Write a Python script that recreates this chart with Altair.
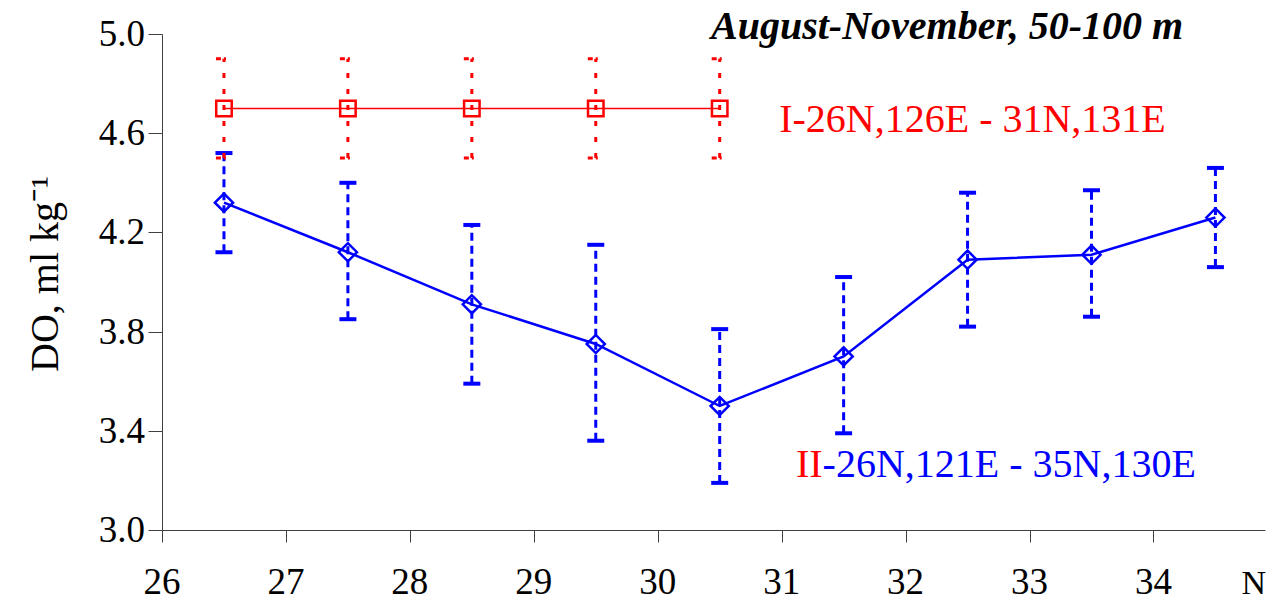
import altair as alt
import pandas as pd

# ---- data ----
lat_red = [26.5, 27.5, 28.5, 29.5, 30.5]
do_red = [4.70, 4.70, 4.70, 4.70, 4.70]
red_lo = [4.50, 4.50, 4.50, 4.50, 4.50]
red_hi = [4.90, 4.90, 4.90, 4.90, 4.90]

lat_blue = [26.5, 27.5, 28.5, 29.5, 30.5, 31.5, 32.5, 33.5, 34.5]
do_blue = [4.32, 4.12, 3.91, 3.75, 3.50, 3.70, 4.09, 4.11, 4.26]
blue_lo = [4.12, 3.85, 3.59, 3.36, 3.19, 3.39, 3.82, 3.86, 4.06]
blue_hi = [4.52, 4.40, 4.23, 4.15, 3.81, 4.02, 4.36, 4.37, 4.46]

x_ticks = [26, 27, 28, 29, 30, 31, 32, 33, 34]
y_ticks = [3.0, 3.4, 3.8, 4.2, 4.6, 5.0]

title_text = "August-November, 50-100 m"
y_title = "DO, ml kg⁻¹"
red_label = "I-26N,126E - 31N,131E"
blue_label_a = "II"
blue_label_b = "-26N,121E - 35N,130E"
x_unit = "N"

RED = "#ff0000"
BLUE = "#0000ff"
FONT = "Liberation Serif"
W, H = 1103, 496

red_df = pd.DataFrame({"lat": lat_red, "do": do_red, "lo": red_lo, "hi": red_hi})
blue_df = pd.DataFrame({"lat": lat_blue, "do": do_blue, "lo": blue_lo, "hi": blue_hi})

xs = alt.Scale(domain=[26, 34.9], nice=False, zero=False)
ys = alt.Scale(domain=[3.0, 5.0], nice=False, zero=False)

axis_col = "#404040"
x_axis = alt.Axis(values=x_ticks, grid=False, title=None, labels=False,
                  domainColor=axis_col, tickColor=axis_col, tickSize=12)
y_axis = alt.Axis(values=y_ticks, grid=False, title=None, labels=False,
                  domainColor=axis_col, tickColor=axis_col, tickSize=14)


def X(field="lat"):
    return alt.X(f"{field}:Q", scale=xs, axis=x_axis)


def Y(field="do"):
    return alt.Y(f"{field}:Q", scale=ys, axis=y_axis)


# blue series
blue_line = alt.Chart(blue_df).mark_line(color=BLUE, strokeWidth=2.5).encode(x=X(), y=Y())
blue_err = alt.Chart(blue_df).mark_rule(color=BLUE, strokeWidth=3, strokeDash=[8, 5]).encode(
    x=X(), y=Y("lo"), y2="hi:Q")
blue_cap_lo = alt.Chart(blue_df).mark_tick(color=BLUE, orient="horizontal", size=17,
                                           thickness=4, opacity=1).encode(x=X(), y=Y("lo"))
blue_cap_hi = alt.Chart(blue_df).mark_tick(color=BLUE, orient="horizontal", size=17,
                                           thickness=4, opacity=1).encode(x=X(), y=Y("hi"))
blue_pts = alt.Chart(blue_df).mark_point(shape="diamond", size=330, filled=False,
                                         color=BLUE, strokeWidth=2.5, opacity=1).encode(
    x=X(), y=Y())

# red series
red_line = alt.Chart(red_df).mark_line(color=RED, strokeWidth=1.5).encode(x=X(), y=Y())
red_err = alt.Chart(red_df).mark_rule(color=RED, strokeWidth=3, strokeDash=[5, 11]).encode(
    x=X(), y=Y("lo"), y2="hi:Q")
cap_shape = "M-1,0L1,0"
red_cap_lo = alt.Chart(red_df).mark_point(shape=cap_shape, size=256, color=RED, filled=False,
                                          strokeWidth=3, strokeDash=[5, 3, 2, 6],
                                          opacity=1).encode(x=X(), y=Y("lo"))
red_cap_hi = alt.Chart(red_df).mark_point(shape=cap_shape, size=256, color=RED, filled=False,
                                          strokeWidth=3, strokeDash=[5, 3, 2, 6],
                                          opacity=1).encode(x=X(), y=Y("hi"))
red_pts = alt.Chart(red_df).mark_point(shape="square", size=240, filled=False, color=RED,
                                       strokeWidth=2.5, opacity=1).encode(x=X(), y=Y())

# tick labels as serif text (axis labels ignore the serif font here)
xlab_df = pd.DataFrame({"lat": x_ticks})
x_labels = alt.Chart(xlab_df).mark_text(font=FONT, fontSize=37, color="black", align="center",
                                        baseline="alphabetic").encode(
    x=X(), y=alt.value(H + 64), text=alt.Text("lat:Q", format="d"))
ylab_df = pd.DataFrame({"do": y_ticks})
y_labels = alt.Chart(ylab_df).mark_text(font=FONT, fontSize=37, color="black", align="right",
                                        baseline="middle", dy=1).encode(
    x=alt.value(-17), y=Y(), text=alt.Text("do:Q", format=".1f"))
ytitle_df = pd.DataFrame({"t": [y_title]})
y_title_mark = alt.Chart(ytitle_df).mark_text(font=FONT, fontSize=40, color="black",
                                              align="center", baseline="alphabetic",
                                              angle=270).encode(
    x=alt.value(-104), y=alt.value(240), text="t:N")


# annotations
def label(text, x, y, color, align, size=40, style="normal", weight="normal",
          baseline="middle"):
    df = pd.DataFrame({"t": [text], "lat": [x], "do": [y]})
    return alt.Chart(df).mark_text(font=FONT, fontSize=size, color=color, align=align,
                                   baseline=baseline, fontStyle=style,
                                   fontWeight=weight).encode(x=X(), y=Y(), text="t:N")


t_title = label(title_text, 34.24, 4.98, "black", "right", size=40, style="italic",
                weight="bold", baseline="alphabetic")
t_red = label(red_label, 30.98, 4.655, RED, "left")
t_blue_a = label(blue_label_a, 31.33, 3.262, RED, "right")
t_blue_b = label(blue_label_b, 31.33, 3.262, BLUE, "left")
n_df = pd.DataFrame({"t": [x_unit], "lat": [34.81]})
t_n = alt.Chart(n_df).mark_text(font=FONT, fontSize=34, color="black", align="center",
                                baseline="alphabetic").encode(
    x=X(), y=alt.value(H + 64), text="t:N")

chart = alt.layer(
    blue_line, blue_err, blue_cap_lo, blue_cap_hi, red_line, red_err, red_cap_lo, red_cap_hi,
    blue_pts, red_pts, x_labels, y_labels, y_title_mark,
    t_title, t_red, t_blue_a, t_blue_b, t_n
).properties(
    width=W, height=H,
    autosize=alt.AutoSizeParams(type="none"),
    padding={"left": 154, "top": 26, "right": 2, "bottom": 71},
    background="white",
).configure_view(stroke=None)

chart.save("out.html", embed_options={"renderer": "svg", "actions": False})
